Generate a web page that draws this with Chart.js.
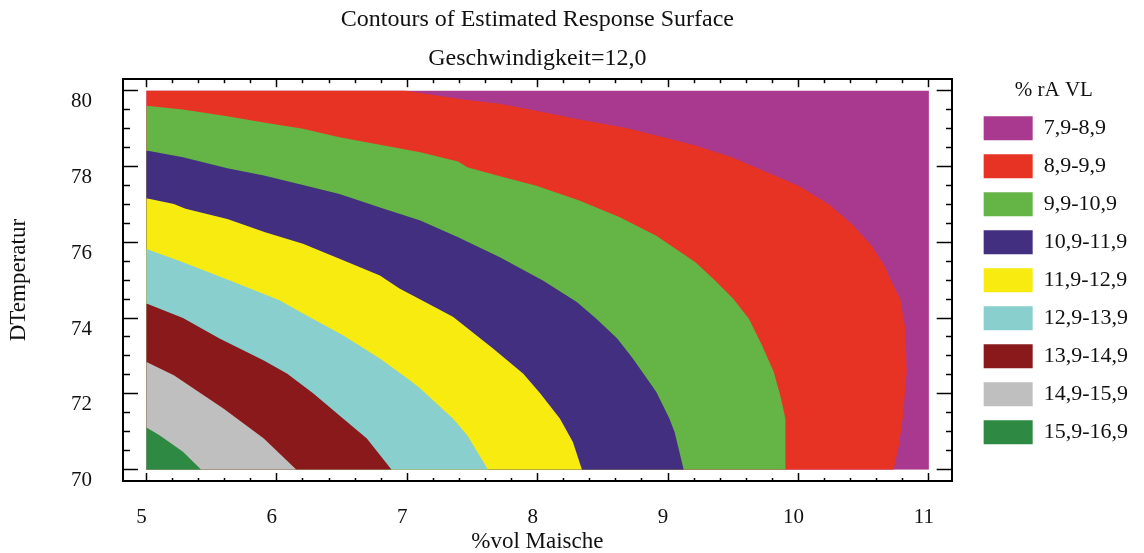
<!DOCTYPE html>
<html>
<head>
<meta charset="utf-8">
<title>Contours of Estimated Response Surface</title>
<script src="https://cdn.jsdelivr.net/npm/chart.js@4.4.1/dist/chart.umd.min.js"></script>
<style>
  html, body { margin: 0; padding: 0; background: #fff; }
</style>
</head>
<body>
<canvas id="myChart" width="1144" height="553"></canvas>
<script>
'use strict';

// band labels, innermost (highest) band first
let bandLabels = ['15,9-16,9', '14,9-15,9', '13,9-14,9', '12,9-13,9', '11,9-12,9',
  '10,9-11,9', '9,9-10,9', '8,9-9,9', '7,9-8,9'];

let bandColors = ['#2e8a42', '#bfbfbf', '#8a191b', '#88cfce', '#f8eb10',
  '#432f80', '#64b446', '#e63323', '#a9388f'];

// outer edge of each band as [%vol Maische, DTemperatur]
let edge159 = [[5.42, 70.0], [5.28, 70.47], [5.10, 70.91], [5.0, 71.11]];
let edge149 = [[6.15, 70.0], [5.90, 70.82], [5.59, 71.61], [5.21, 72.49], [5.0, 72.84]];
let edge139 = [[6.88, 70.0], [6.69, 70.82], [6.48, 71.43], [6.28, 72.01], [6.08, 72.53],
  [5.90, 72.88], [5.56, 73.46], [5.28, 74.00], [5.0, 74.38]];
let edge129 = [[7.62, 70.0], [7.46, 70.91], [7.35, 71.35], [7.10, 72.14], [7.02, 72.36],
  [6.79, 72.93], [6.51, 73.54], [6.20, 74.12], [6.02, 74.47], [5.64, 74.99], [5.28, 75.47], [5.0, 75.82]];
let edge119 = [[8.34, 70.0], [8.27, 70.73], [8.17, 71.35], [8.02, 72.01], [7.89, 72.53],
  [7.66, 73.19], [7.35, 74.03], [7.10, 74.49], [6.94, 74.78], [6.79, 75.12], [6.48, 75.56],
  [6.20, 75.96], [5.91, 76.26], [5.62, 76.61], [5.30, 76.88], [5.21, 77.01], [5.0, 77.16]];
let edge109 = [[9.12, 70.0], [9.05, 70.99], [9.01, 71.35], [8.91, 72.05], [8.73, 72.93],
  [8.61, 73.46], [8.45, 73.98], [8.30, 74.42], [8.04, 74.99], [7.71, 75.60], [7.39, 76.13],
  [7.10, 76.57], [6.82, 76.88], [6.48, 77.27], [6.20, 77.51], [5.90, 77.76], [5.62, 77.95],
  [5.28, 78.24], [5.0, 78.42]];
let edge99 = [[9.90, 70.0], [9.90, 71.35], [9.86, 71.96], [9.81, 72.58], [9.72, 73.28],
  [9.62, 73.98], [9.50, 74.51], [9.36, 74.99], [9.21, 75.47], [8.91, 76.17], [8.63, 76.66],
  [8.32, 77.10], [7.99, 77.49], [7.69, 77.76], [7.46, 77.98], [7.39, 78.13], [7.10, 78.37],
  [6.79, 78.57], [6.48, 78.77], [6.20, 78.99], [5.90, 79.16], [5.62, 79.32], [5.28, 79.50], [5.0, 79.60]];
let edge89 = [[10.73, 70.0], [10.77, 70.64], [10.80, 71.35], [10.83, 72.58], [10.82, 73.72],
  [10.78, 74.51], [10.71, 74.99], [10.66, 75.38], [10.56, 75.91], [10.41, 76.48], [10.23, 77.01],
  [10.00, 77.49], [9.79, 77.80], [9.49, 78.24], [9.21, 78.55], [9.01, 78.73], [8.68, 79.01],
  [8.30, 79.25], [7.99, 79.47], [7.71, 79.65], [7.40, 79.78], [6.98, 80.0]];
let edgeDomain = [[11.0, 70.0], [11.0, 80.0]];

let allEdges = [edge159, edge149, edge139, edge129, edge119, edge109, edge99, edge89, edgeDomain];

// axis ranges and tick steps
let xRange = [4.82, 11.175];
let yRange = [69.7, 80.3];
let xStep = 0.2;
let yStep = 0.5;

Chart.defaults.font.family = "'Liberation Serif', 'Times New Roman', serif";
Chart.defaults.color = '#111';

function isWhole(v) {
  return Math.abs(v - Math.round(v)) < 1e-6;
}
function isEven(v) {
  return isWhole(v) && Math.round(v) % 2 === 0;
}

let datasets = [];
for (let i = 0; i < allEdges.length; i++) {
  datasets.push({
    label: bandLabels[i],
    data: allEdges[i].map(p => ({x: p[0], y: p[1]})),
    backgroundColor: bandColors[i],
    borderColor: bandColors[i],
    borderWidth: 0,
    pointRadius: 0,
    tension: 0,
    fill: {value: 5}
  });
}

let tickFont = {size: 21};
let titleFont = {size: 23, lineHeight: 1};

// ticks point into the frame; short ones for minor steps via dash
function frameGrid(len, majorTest, dashFn) {
  return {
    drawOnChartArea: false,
    drawTicks: true,
    tickLength: -len,
    tickColor: '#000',
    tickWidth: 1.5,
    tickBorderDash: c => majorTest(c.tick.value) ? [] : dashFn()[0],
    tickBorderDashOffset: c => majorTest(c.tick.value) ? 0 : dashFn()[1]
  };
}

let ctx = document.getElementById('myChart');

new Chart(ctx, {
  type: 'line',
  data: {datasets: datasets},
  options: {
    responsive: false,
    animation: false,
    events: [],
    indexAxis: 'y',
    layout: {padding: {top: 0, right: 6, bottom: 0, left: 0}},
    scales: {
      x: {
        type: 'linear', position: 'bottom', min: xRange[0], max: xRange[1],
        afterFit: s => { s.height = 72; },
        border: {display: true, color: '#000', width: 2},
        grid: frameGrid(8, isWhole, () => [[4, 100], 0]),
        ticks: {
          stepSize: xStep, includeBounds: false, autoSkip: false, maxRotation: 0,
          padding: 32, labelOffset: -5, color: '#111', font: tickFont,
          callback: v => isWhole(v) ? String(Math.round(v)) : ''
        },
        title: {display: true, text: '%vol Maische', color: '#111', font: titleFont, padding: 0}
      },
      x2: {
        type: 'linear', axis: 'x', position: 'top', min: xRange[0], max: xRange[1],
        afterFit: s => { s.height = 0; },
        border: {display: true, color: '#000', width: 2},
        grid: frameGrid(8, isWhole, () => [[4, 4], 4]),
        ticks: {stepSize: xStep, includeBounds: false, autoSkip: false, display: false}
      },
      y: {
        type: 'linear', position: 'left', min: yRange[0], max: yRange[1],
        afterFit: s => { s.width = 123; },
        border: {display: true, color: '#000', width: 2},
        grid: frameGrid(15, isEven, () => [[7, 8], 7]),
        ticks: {
          stepSize: yStep, includeBounds: false, autoSkip: false,
          padding: 46, labelOffset: 11, color: '#111', font: tickFont,
          callback: v => isEven(v) ? String(Math.round(v)) : ''
        },
        title: {display: true, text: 'DTemperatur', color: '#111', font: titleFont, padding: {top: 7, bottom: 0}}
      },
      y2: {
        type: 'linear', axis: 'y', position: 'right', min: yRange[0], max: yRange[1],
        afterFit: s => { s.width = 18; },
        border: {display: true, color: '#000', width: 2},
        grid: frameGrid(15, isEven, () => [[7, 100], 0]),
        ticks: {stepSize: yStep, includeBounds: false, autoSkip: false, display: false}
      }
    },
    plugins: {
      title: {
        display: true, fullSize: false,
        text: 'Contours of Estimated Response Surface',
        color: '#111', font: {size: 24, weight: 'normal', lineHeight: 1.2},
        padding: {top: 5, bottom: 4}
      },
      subtitle: {
        display: true, fullSize: false,
        text: 'Geschwindigkeit=12,0',
        color: '#111', font: {size: 24, weight: 'normal', lineHeight: 1.2},
        padding: {top: 7, bottom: 5.6}
      },
      legend: {
        position: 'right', align: 'start', reverse: true,
        title: {
          display: true, text: '% rA VL', color: '#111',
          font: {size: 21, lineHeight: 1.2}, padding: {top: 80, bottom: -3}
        },
        labels: {boxWidth: 49, boxHeight: 24, padding: 14, color: '#111', font: {size: 22}}
      },
      tooltip: {enabled: false}
    }
  }
});
</script>
</body>
</html>
